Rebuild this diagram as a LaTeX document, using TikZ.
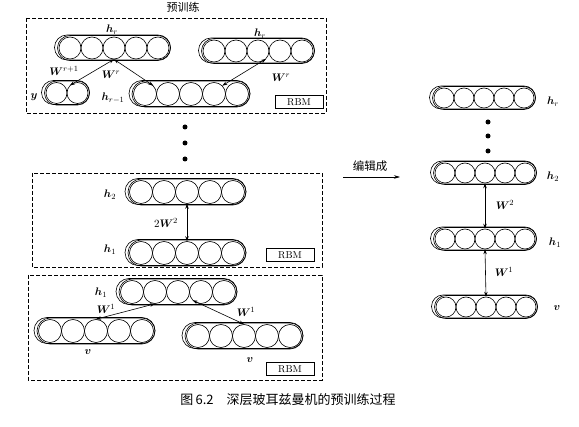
\documentclass[tikz,border=0pt]{standalone}
\usepackage{amsmath}
\usepackage{bm}
\usepackage{fontspec}
\newfontfamily\cjk{Noto Sans CJK SC}
\usetikzlibrary{arrows.meta,positioning,calc}

% one RBM layer: name, x, y, units, unit diameter
\newcommand{\rbmlayer}[5]{%
  \foreach \k in {1,...,#4}
    \node[unit=#5pt] (#1-\k) at ({#2+(\k-(#4+1)/2)*#5},#3) {};
  \node[pill, minimum width=#4*#5pt+3pt, minimum height=#5pt+3pt,
        rounded corners=#5pt/2+1.5pt] (#1) at (#2,#3) {};
  \node[pill, minimum width=#4*#5pt+6pt, minimum height=#5pt+3pt,
        rounded corners=#5pt/2+1.5pt] (#1o) at (#2-1.5,#3-0.5) {};
}

\begin{document}
\begin{tikzpicture}[
  x=1pt, y=-1pt,
  every node/.style={font=\small},
  unit/.style={circle, draw, semithick, minimum size=#1, inner sep=0pt},
  pill/.style={rectangle, draw, semithick, inner sep=0pt},
  lbl/.style={font=\fontsize{11}{13}\selectfont, inner sep=1pt},
  rbm/.style={rectangle, draw, semithick, font=\fontsize{10}{12}\selectfont,
              minimum width=48pt, minimum height=13pt, inner sep=0pt},
  stage/.style={draw, dashed, dash pattern=on 4pt off 2pt, semithick},
  link/.style={{Stealth[length=5pt,width=3.5pt]}-{Stealth[length=5pt,width=3.5pt]}, semithick},
  dot/.style={circle, fill, inner sep=0pt, minimum size=5pt},
]
\useasboundingbox (0,0) rectangle (579,427);

%% pre-training part
\node[font=\cjk\fontsize{11}{12}\selectfont, inner sep=0pt] (pre) at (183,7) {预训练};
\draw[stage] (26,18) rectangle (326,113);
\draw[stage] (32,173) rectangle (322,267);
\draw[stage] (28,275) rectangle (322,380);

% top block
\rbmlayer{hrA}{114}{48}{5}{22}
\rbmlayer{hrB}{258}{51}{5}{22}
\rbmlayer{ylay}{67}{93}{2}{21}
\rbmlayer{hrm}{191}{94}{5}{23}
\node[lbl] (lhrA) at (112,30) {$\bm{h}_r$};
\node[lbl] (lhrB) at (260,34) {$\bm{h}_r$};
\node[lbl] (ly)   at (34,97)  {$\bm{y}$};
\node[lbl] (lhrm) at (113,98) {$\bm{h}_{r-1}$};
\node[lbl] (lw1)  at (64,71)  {$\bm{W}^{r+1}$};
\node[lbl] (lw2)  at (111,75) {$\bm{W}^{r}$};
\node[lbl] (lw3)  at (281,78) {$\bm{W}^{r}$};
\node[rbm] (rbmA) at (299,102) {RBM};
\draw[link] (hrA-3.south) -- (ylay-2.north west);
\draw[link] (hrA-3.south) -- (hrm-1.north east);
\draw[link] (hrB-3.south east) -- (hrm-4.north east);

\node[dot] (d1) at (185,127) {};
\node[dot] (d2) at (185,143) {};
\node[dot] (d3) at (185,159) {};

% middle block
\rbmlayer{htwo}{187}{192}{5}{23}
\rbmlayer{hone}{187}{253}{5}{23}
\node[lbl] (lh2) at (110,195) {$\bm{h}_2$};
\node[lbl] (lh1) at (110,250) {$\bm{h}_1$};
\node[lbl] (l2w) at (166,223) {$2\bm{W}^2$};
\node[rbm] (rbmB) at (290,255) {RBM};
\draw[link] (htwo-3.south) -- (hone-3.north);

% bottom block
\rbmlayer{hb}{178}{292}{5}{23}
\rbmlayer{vL}{96}{331}{5}{23}
\rbmlayer{vR}{244}{336}{5}{23}
\node[lbl] (lhb) at (101,293) {$\bm{h}_1$};
\node[lbl] (lvL) at (88,352)  {$\bm{v}$};
\node[lbl] (lvR) at (250,360) {$\bm{v}$};
\node[lbl] (lwL) at (106,309) {$\bm{W}^1$};
\node[lbl] (lwR) at (246,312) {$\bm{W}^1$};
\node[rbm] (rbmC) at (290,369) {RBM};
\draw[link] (hb-2.south) -- (vL-3.north);
\draw[link] (hb-4.south west) -- (vR-3.north);

%% compiled network
\coordinate (ea) at (343,177);
\coordinate (eb) at (400,177);
\draw[-{Stealth[length=6pt,width=3.5pt]}, semithick] (ea) -- (eb);
\node[font=\cjk\fontsize{11.5}{13}\selectfont] (edit) at (370,166) {编辑成};

\rbmlayer{Rhr}{484}{98}{5}{20}
\rbmlayer{Rh2}{485}{173}{5}{20}
\rbmlayer{Rh1}{485}{239}{5}{20}
\rbmlayer{Rv}{486}{307}{5}{20}
\node[dot] (r1) at (488,122) {};
\node[dot] (r2) at (488,136) {};
\node[dot] (r3) at (488,151) {};
\node[lbl] (lRhr) at (553,102) {$\bm{h}_r$};
\node[lbl] (lRh2) at (553,177) {$\bm{h}_2$};
\node[lbl] (lRh1) at (555,243) {$\bm{h}_1$};
\node[lbl] (lRv)  at (557,308) {$\bm{v}$};
\node[lbl] (lRw2) at (505,205) {$\bm{W}^2$};
\node[lbl] (lRw1) at (504,272) {$\bm{W}^1$};
\draw[link] (Rh2-3.south) -- (Rh1-3.north);
\draw[link] (Rh1-3.south) -- (Rv-3.north);

%% caption
\node[font=\cjk\fontsize{13}{15}\selectfont] (cap) at (288,400)
  {图\,6.2\quad 深层玻耳兹曼机的预训练过程};
\end{tikzpicture}
\end{document}
